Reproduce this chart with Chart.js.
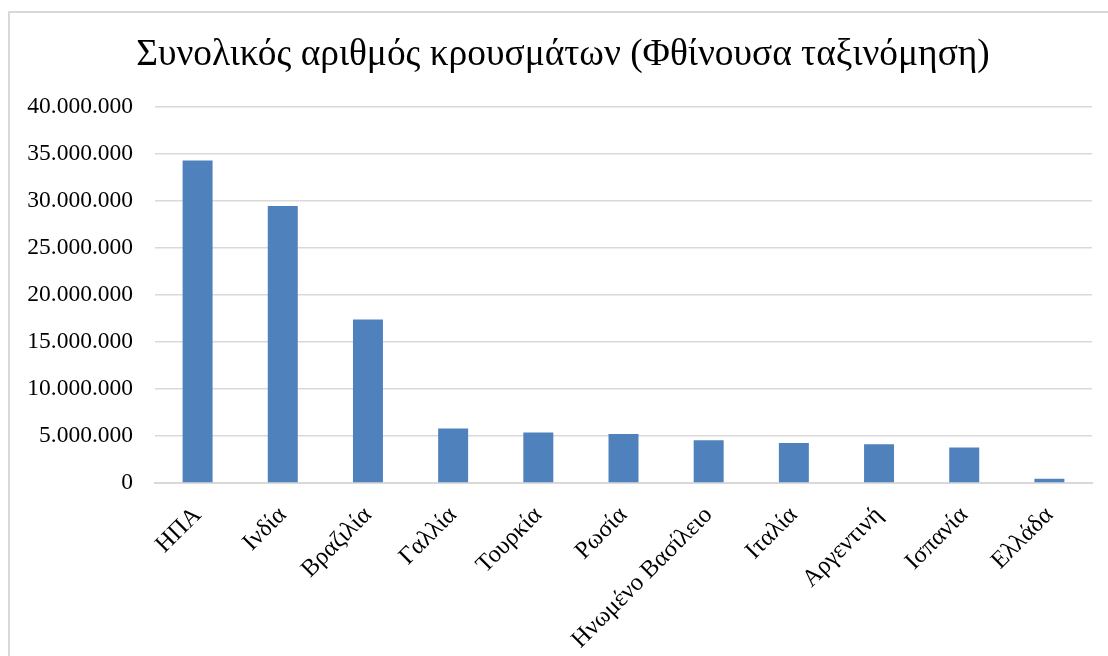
<!DOCTYPE html>
<html>
<head>
<meta charset="utf-8">
<script src="https://cdn.jsdelivr.net/npm/chart.js@4"></script>
<style>
html,body{margin:0;padding:0;background:#fff;}
#wrap{width:1108px;height:656px;position:relative;}
</style>
</head>
<body>
<div id="wrap"><canvas id="c" width="1108" height="656"></canvas></div>
<script>
const categories = ["ΗΠΑ","Ινδία","Βραζιλία","Γαλλία","Τουρκία","Ρωσία","Ηνωμένο Βασίλειο","Ιταλία","Αργεντινή","Ισπανία","Ελλάδα"];
const cases = [34300000, 29470000, 17380000, 5790000, 5360000, 5210000, 4540000, 4260000, 4120000, 3770000, 450000];
const yTicks = [0, 5000000, 10000000, 15000000, 20000000, 25000000, 30000000, 35000000, 40000000];
const titleText = "Συνολικός αριθμός κρουσμάτων (Φθίνουσα ταξινόμηση)";

function fmt(v){ return String(Math.round(v)).replace(/\B(?=(\d{3})+(?!\d))/g, "."); }

const frame = {
  id: 'frame',
  afterLayout(chart){
    const t = chart.titleBlock;
    if (t) { t.left += 17; t.right += 17; }
  },
  beforeDraw(chart){
    const ctx = chart.ctx;
    ctx.save();
    ctx.fillStyle = '#ffffff';
    ctx.fillRect(0,0,chart.width,chart.height);
    ctx.strokeStyle = '#d9d9d9';
    ctx.lineWidth = 2;
    ctx.strokeRect(9, 12, 1300, 900);
    ctx.restore();
  }
};

new Chart(document.getElementById('c'), {
  type: 'bar',
  data: {
    labels: categories,
    datasets: [{
      data: cases,
      backgroundColor: '#4F81BD',
      borderColor: '#4F81BD',
      borderWidth: 0,
      categoryPercentage: 1,
      barPercentage: 0.352
    }]
  },
  options: {
    responsive: false,
    animation: false,
    devicePixelRatio: 1,
    layout: { padding: { top: 0, left: 0, right: 16, bottom: 0 } },
    plugins: {
      legend: { display: false },
      tooltip: { enabled: false },
      title: {
        display: true,
        text: titleText,
        color: '#000000',
        font: { family: '"Liberation Serif", "Times New Roman", serif', size: 37.4, weight: 'normal', lineHeight: 1.2 },
        padding: { top: 33, bottom: 29.1 }
      }
    },
    scales: {
      x: {
        grid: { display: false, drawTicks: false },
        border: { display: true, color: '#d9d9d9', width: 2 },
        ticks: {
          color: '#000000',
          font: { family: '"Liberation Serif", "Times New Roman", serif', size: 24.5 },
          minRotation: 45,
          maxRotation: 45,
          autoSkip: false,
          padding: 18
        },
        afterFit(scale){ scale.height = 173; }
      },
      y: {
        min: 0,
        max: 40000000,
        afterBuildTicks(scale){ scale.ticks = yTicks.map(v => ({ value: v })); },
        grid: { color: '#d9d9d9', lineWidth: 1.5, drawTicks: false },
        border: { display: false },
        ticks: {
          color: '#000000',
          font: { family: '"Liberation Serif", "Times New Roman", serif', size: 23.5 },
          padding: 22,
          callback: (v) => fmt(v)
        },
        afterFit(scale){ scale.width = 155; }
      }
    }
  },
  plugins: [frame]
});
</script>
</body>
</html>
